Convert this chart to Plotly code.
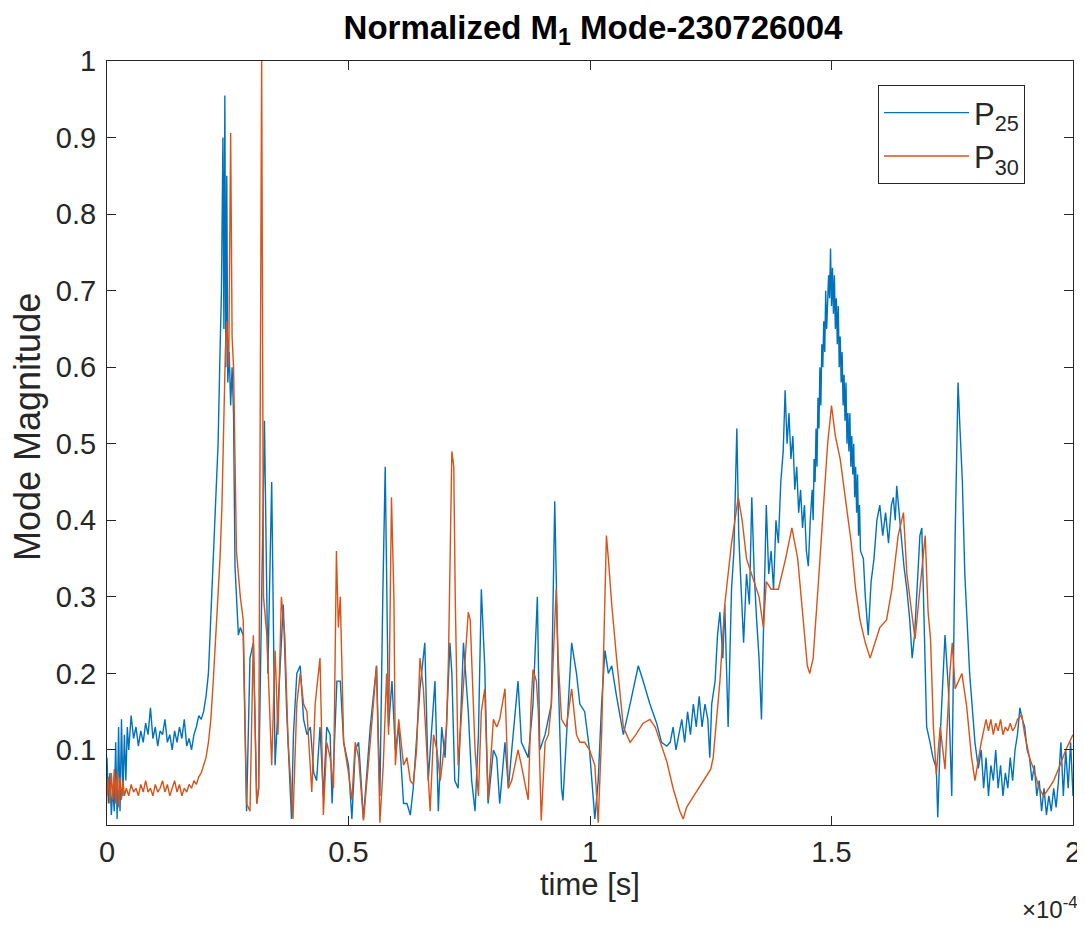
import plotly.graph_objects as go

# time in units of 1e-4 s
t_p25 = [0, 0.003, 0.006, 0.009, 0.012, 0.015, 0.018, 0.021, 0.024, 0.027, 0.030, 0.033, 0.036, 0.039,
         0.042, 0.045, 0.05, 0.055, 0.06, 0.065, 0.07, 0.075, 0.08, 0.085, 0.09, 0.095, 0.10, 0.105, 0.11, 0.115,
         0.12, 0.125, 0.13, 0.135, 0.14, 0.145, 0.15, 0.155, 0.16, 0.165, 0.17, 0.175, 0.18, 0.185, 0.19, 0.195,
         0.200, 0.205, 0.210, 0.214, 0.218, 0.222, 0.226, 0.230, 0.234, 0.237, 0.240, 0.242, 0.244, 0.246, 0.248,
         0.250, 0.253, 0.256, 0.259, 0.262, 0.265, 0.268, 0.272, 0.276, 0.282, 0.289, 0.296, 0.303, 0.310, 0.314,
         0.320, 0.326, 0.333, 0.341, 0.348, 0.358, 0.365, 0.372, 0.382, 0.386, 0.393,
         0.400, 0.407, 0.414, 0.421, 0.428, 0.434, 0.441, 0.448, 0.455, 0.462, 0.466, 0.476, 0.483, 0.490, 0.500,
         0.507, 0.514, 0.521, 0.531, 0.545, 0.558, 0.565, 0.571, 0.576, 0.583, 0.590, 0.597, 0.604, 0.614, 0.621,
         0.628, 0.634, 0.648, 0.658, 0.665, 0.672, 0.679, 0.686, 0.693, 0.700, 0.710, 0.714, 0.720, 0.727, 0.738,
         0.748, 0.755, 0.762, 0.769, 0.775, 0.782, 0.789, 0.800, 0.807, 0.813, 0.824, 0.831, 0.838, 0.851, 0.858,
         0.872, 0.882, 0.891, 0.896, 0.907, 0.920, 0.927, 0.934, 0.941, 0.944, 0.951, 0.962, 0.972, 0.979, 0.989,
         0.999, 1.010, 1.017, 1.024, 1.031, 1.038, 1.045, 1.055, 1.069, 1.083, 1.093, 1.100, 1.110, 1.124, 1.138,
         1.148, 1.159, 1.166, 1.172, 1.178, 1.184, 1.190, 1.196, 1.202, 1.208, 1.214, 1.220, 1.226, 1.232, 1.238,
         1.244, 1.248, 1.252, 1.259, 1.264, 1.269, 1.275, 1.279, 1.286, 1.293, 1.298, 1.304, 1.308, 1.313, 1.318,
         1.324, 1.330, 1.335, 1.340, 1.345, 1.350, 1.355, 1.360, 1.365, 1.370, 1.375, 1.380, 1.385, 1.390, 1.395,
         1.400, 1.404, 1.408, 1.412, 1.416, 1.420, 1.424, 1.428, 1.432, 1.436, 1.440, 1.444, 1.448, 1.452, 1.456,
         1.460, 1.462, 1.464, 1.466, 1.468, 1.470, 1.472, 1.474, 1.476, 1.478, 1.480, 1.482, 1.484, 1.486, 1.488,
         1.490, 1.492, 1.494, 1.496, 1.498, 1.500, 1.502, 1.504, 1.506, 1.508, 1.510, 1.512, 1.514, 1.516, 1.518,
         1.520, 1.522, 1.524, 1.526, 1.528, 1.530, 1.532, 1.534, 1.536, 1.538, 1.540, 1.542, 1.544, 1.546, 1.548,
         1.550, 1.552, 1.554, 1.556, 1.558, 1.560, 1.566, 1.570, 1.576,
         1.582, 1.588, 1.594, 1.600, 1.606, 1.612, 1.618, 1.624, 1.628, 1.632, 1.635, 1.640, 1.645, 1.650, 1.656,
         1.662, 1.667, 1.672, 1.678, 1.683, 1.687, 1.691, 1.697, 1.704, 1.710, 1.717, 1.720, 1.726, 1.735, 1.742,
         1.749, 1.756, 1.762, 1.766, 1.771, 1.776, 1.786, 1.797, 1.804, 1.810, 1.815, 1.820, 1.825, 1.830, 1.835,
         1.840, 1.845, 1.850, 1.855, 1.860, 1.865, 1.870, 1.875, 1.880, 1.885, 1.890, 1.895, 1.900, 1.905, 1.910,
         1.915, 1.920, 1.925, 1.930, 1.935, 1.940, 1.945, 1.950, 1.955, 1.960, 1.965, 1.970, 1.975, 1.980, 1.985,
         1.990, 1.995, 2.000]
v_p25 = [0.09, 0.03, 0.07, 0.015, 0.05, 0.02, 0.11, 0.01, 0.13, 0.02, 0.14, 0.04, 0.12, 0.06,
         0.13, 0.10, 0.145, 0.115, 0.13, 0.105, 0.125, 0.11, 0.135, 0.12, 0.155, 0.115, 0.13, 0.105, 0.125, 0.12,
         0.14, 0.11, 0.12, 0.10, 0.125, 0.11, 0.13, 0.115, 0.14, 0.105, 0.115, 0.10, 0.12, 0.13, 0.145, 0.14,
         0.15, 0.17, 0.20, 0.26, 0.30, 0.36, 0.42, 0.50, 0.62, 0.70, 0.90, 0.65, 0.955, 0.60, 0.85,
         0.58, 0.62, 0.55, 0.60, 0.54, 0.34, 0.30, 0.25, 0.26, 0.25, 0.02, 0.22, 0.24, 0.03, 0.05,
         0.28, 0.53, 0.20, 0.45, 0.08, 0.20, 0.29, 0.15, 0.01, 0.12, 0.20,
         0.21, 0.14, 0.12, 0.13, 0.07, 0.06, 0.13, 0.04, 0.13, 0.12, 0.03, 0.19, 0.19, 0.11, 0.08,
         0.01, 0.10, 0.11, 0.01, 0.13, 0.21, 0.04, 0.30, 0.47, 0.13, 0.19, 0.10, 0.13, 0.03, 0.03,
         0.015, 0.05, 0.18, 0.24, 0.06, 0.13, 0.19, 0.02, 0.13, 0.09, 0.24, 0.20, 0.06, 0.05, 0.24,
         0.15, 0.06, 0.02, 0.12, 0.31, 0.21, 0.03, 0.10, 0.09, 0.03, 0.11, 0.05, 0.10, 0.19, 0.11,
         0.09, 0.16, 0.30, 0.10, 0.12, 0.16, 0.425, 0.20, 0.05, 0.034, 0.11, 0.24, 0.20, 0.16, 0.15,
         0.10, 0.01, 0.06, 0.16, 0.23, 0.20, 0.21, 0.17, 0.12, 0.16, 0.19, 0.21, 0.19, 0.16, 0.135,
         0.11, 0.105, 0.11, 0.13, 0.10, 0.12, 0.14, 0.11, 0.15, 0.12, 0.16, 0.13, 0.17, 0.13, 0.16,
         0.14, 0.09, 0.16, 0.19, 0.25, 0.28, 0.22, 0.29, 0.13, 0.31, 0.36, 0.52, 0.38, 0.30, 0.24,
         0.33, 0.29, 0.43, 0.33, 0.27, 0.22, 0.14, 0.30, 0.42, 0.33, 0.36, 0.31, 0.40, 0.37, 0.45,
         0.49, 0.57, 0.50, 0.54, 0.48, 0.51, 0.44, 0.47, 0.41, 0.44, 0.39, 0.42, 0.36, 0.34, 0.40,
         0.44, 0.40, 0.48, 0.45, 0.52, 0.47, 0.56, 0.52, 0.60, 0.55, 0.63, 0.60, 0.66, 0.62, 0.70,
         0.65, 0.68, 0.72, 0.69, 0.755, 0.68, 0.73, 0.67, 0.72, 0.65, 0.69, 0.63, 0.68, 0.60, 0.64,
         0.58, 0.62, 0.55, 0.59, 0.53, 0.58, 0.50, 0.54, 0.49, 0.54, 0.47, 0.51, 0.46, 0.50, 0.43,
         0.47, 0.41, 0.46, 0.38, 0.42, 0.36, 0.35, 0.30, 0.25,
         0.32, 0.35, 0.40, 0.42, 0.38, 0.41, 0.37, 0.42, 0.43, 0.40, 0.445, 0.41, 0.38, 0.34, 0.31,
         0.27, 0.22, 0.25, 0.32, 0.38, 0.39, 0.30, 0.13, 0.11, 0.09, 0.076, 0.012, 0.13, 0.25, 0.18,
         0.04, 0.38, 0.58, 0.52, 0.45, 0.33, 0.20, 0.11, 0.076, 0.10, 0.05, 0.09, 0.04, 0.08, 0.06,
         0.10, 0.05, 0.08, 0.04, 0.07, 0.05, 0.09, 0.06, 0.10, 0.12, 0.155, 0.14, 0.13, 0.10, 0.09,
         0.06, 0.08, 0.04, 0.06, 0.02, 0.05, 0.015, 0.04, 0.02, 0.05, 0.025, 0.06, 0.11, 0.04, 0.10,
         0.05, 0.11, 0.04]

t_p30 = [0, 0.003, 0.006, 0.009, 0.012, 0.015, 0.018, 0.021, 0.024, 0.027, 0.030, 0.033, 0.036,
         0.04, 0.045, 0.05, 0.055, 0.06, 0.065, 0.07, 0.075, 0.08, 0.085, 0.09, 0.095, 0.10, 0.105, 0.11, 0.115,
         0.12, 0.125, 0.13, 0.135, 0.14, 0.145, 0.15, 0.155, 0.16, 0.165, 0.17, 0.175, 0.18, 0.185, 0.19, 0.195,
         0.20, 0.205, 0.21, 0.215, 0.22, 0.225, 0.23, 0.234, 0.238, 0.242, 0.245, 0.248, 0.252, 0.256, 0.259,
         0.262, 0.265, 0.268, 0.272, 0.276, 0.282, 0.289, 0.296, 0.303, 0.310, 0.314, 0.3202, 0.324, 0.331, 0.338,
         0.341, 0.348, 0.354, 0.361, 0.368, 0.375, 0.385, 0.393, 0.400,
         0.407, 0.414, 0.424, 0.431, 0.441, 0.448, 0.455, 0.462, 0.469, 0.475, 0.479, 0.483, 0.490, 0.500, 0.507,
         0.514, 0.521, 0.528, 0.531, 0.545, 0.558, 0.565, 0.572, 0.579, 0.583, 0.589, 0.594, 0.597, 0.604, 0.614,
         0.621, 0.628, 0.634, 0.641, 0.648, 0.655, 0.662, 0.669, 0.676, 0.683, 0.690, 0.697, 0.703, 0.707, 0.711,
         0.714, 0.718, 0.721, 0.727, 0.734, 0.741, 0.748, 0.752, 0.755, 0.762, 0.769, 0.775, 0.782, 0.789, 0.800,
         0.807, 0.813, 0.824, 0.831, 0.838, 0.851, 0.858, 0.872, 0.878, 0.882, 0.889, 0.893, 0.899, 0.907, 0.914,
         0.920, 0.927, 0.930, 0.934, 0.941, 0.951, 0.962, 0.972, 0.979, 0.989, 0.999, 1.010, 1.017, 1.024, 1.031,
         1.034, 1.038, 1.045, 1.055, 1.069, 1.083, 1.095, 1.110, 1.124, 1.135, 1.145, 1.159, 1.172, 1.186, 1.193,
         1.200, 1.210, 1.220, 1.230, 1.240, 1.250, 1.255, 1.262, 1.269, 1.279, 1.293, 1.307, 1.315, 1.324, 1.340,
         1.350, 1.359, 1.365, 1.375, 1.390, 1.405, 1.418, 1.430, 1.442, 1.450, 1.455, 1.462, 1.473, 1.483, 1.492,
         1.500, 1.508, 1.518, 1.530, 1.541, 1.550, 1.559, 1.570, 1.580, 1.590, 1.600, 1.614, 1.625, 1.638, 1.649,
         1.656, 1.673, 1.683, 1.694, 1.700, 1.705, 1.711, 1.717, 1.725, 1.735, 1.745, 1.750, 1.756, 1.770, 1.780,
         1.790, 1.797, 1.810, 1.820, 1.825, 1.830, 1.835, 1.840, 1.845, 1.850, 1.855, 1.860, 1.865, 1.870, 1.875,
         1.880, 1.885, 1.894, 1.900, 1.910, 1.918, 1.930, 1.939, 1.950, 1.960, 1.973, 1.985, 2.000]
v_p30 = [0.04, 0.065, 0.03, 0.07, 0.035, 0.075, 0.03, 0.07, 0.025, 0.065, 0.035, 0.06, 0.04,
         0.05, 0.04, 0.055, 0.045, 0.05, 0.04, 0.055, 0.045, 0.06, 0.045, 0.05, 0.04, 0.055, 0.045, 0.05, 0.06,
         0.045, 0.055, 0.04, 0.05, 0.06, 0.045, 0.055, 0.04, 0.05, 0.045, 0.055, 0.05, 0.06, 0.055, 0.065, 0.07,
         0.08, 0.09, 0.11, 0.14, 0.19, 0.25, 0.30, 0.35, 0.42, 0.55, 0.62, 0.66, 0.60, 0.906, 0.64,
         0.60, 0.45, 0.36, 0.33, 0.30, 0.27, 0.03, 0.02, 0.25, 0.03, 0.05, 1.0, 0.30, 0.25, 0.12,
         0.08, 0.23, 0.12, 0.30, 0.25, 0.11, 0.01, 0.16, 0.20,
         0.16, 0.15, 0.045, 0.16, 0.22, 0.015, 0.11, 0.09, 0.05, 0.36, 0.26, 0.30, 0.11, 0.07, 0.035,
         0.11, 0.09, 0.03, 0.008, 0.11, 0.21, 0.005, 0.08, 0.20, 0.12, 0.43, 0.30, 0.08, 0.14, 0.08,
         0.09, 0.06, 0.055, 0.10, 0.22, 0.18, 0.10, 0.02, 0.12, 0.10, 0.06, 0.10, 0.13, 0.22, 0.40,
         0.49, 0.47, 0.30, 0.08, 0.15, 0.22, 0.28, 0.27, 0.22, 0.10, 0.04, 0.15, 0.18, 0.035, 0.14,
         0.13, 0.14, 0.18, 0.05, 0.06, 0.10, 0.08, 0.035, 0.16, 0.205, 0.19, 0.15, 0.008, 0.11, 0.12,
         0.16, 0.28, 0.31, 0.22, 0.14, 0.13, 0.18, 0.12, 0.11, 0.11, 0.10, 0.08, 0.005, 0.12, 0.30,
         0.38, 0.35, 0.29, 0.22, 0.13, 0.11, 0.12, 0.135, 0.14, 0.13, 0.11, 0.085, 0.05, 0.02, 0.01,
         0.025, 0.035, 0.045, 0.055, 0.065, 0.075, 0.09, 0.14, 0.19, 0.29, 0.37, 0.43, 0.40, 0.35, 0.32,
         0.30, 0.26, 0.32, 0.31, 0.31, 0.35, 0.39, 0.35, 0.27, 0.21, 0.20, 0.22, 0.32, 0.42, 0.50,
         0.55, 0.51, 0.48, 0.42, 0.37, 0.31, 0.27, 0.24, 0.22, 0.24, 0.26, 0.27, 0.31, 0.38, 0.41,
         0.33, 0.245, 0.31, 0.38, 0.28, 0.245, 0.13, 0.068, 0.13, 0.075, 0.20, 0.24, 0.18, 0.20, 0.156,
         0.09, 0.06, 0.11, 0.14, 0.125, 0.14, 0.12, 0.135, 0.125, 0.14, 0.12, 0.13, 0.125, 0.135, 0.125,
         0.13, 0.14, 0.146, 0.12, 0.09, 0.076, 0.05, 0.04, 0.05, 0.06, 0.08, 0.10, 0.12]

x_ticks = [0, 0.5, 1, 1.5, 2]
x_tick_labels = ["0", "0.5", "1", "1.5", "2"]
y_ticks = [0.1, 0.2, 0.3, 0.4, 0.5, 0.6, 0.7, 0.8, 0.9, 1]
y_tick_labels = ["0.1", "0.2", "0.3", "0.4", "0.5", "0.6", "0.7", "0.8", "0.9", "1"]

FONT = "Liberation Sans, Arial, Helvetica, sans-serif"
AX = "#262626"
# page body adds an 8px offset; figure is sized to fit the window
W, H = 1077, 919
L, R, T, B = 99, 12, 53, 102
PW = W - L - R
PH = H - T - B

fig = go.Figure()
fig.add_trace(go.Scatter(x=t_p25, y=v_p25, mode="lines", name="P<sub>25</sub>",
                         line=dict(color="#0072BD", width=1.4)))
fig.add_trace(go.Scatter(x=t_p30, y=v_p30, mode="lines", name="P<sub>30</sub>",
                         line=dict(color="#D95319", width=1.4)))

fig.update_layout(
    width=W, height=H,
    margin=dict(l=L, r=R, t=T, b=B, autoexpand=False),
    paper_bgcolor="white", plot_bgcolor="white",
    font=dict(family=FONT, color=AX, size=29),
    title=dict(text="<b>Normalized M<sub>1</sub> Mode-230726004</b>", x=585 / W, xanchor="center",
               xref="container", yref="container",
               y=1 - 19 / H, yanchor="middle", font=dict(size=33, color="black")),
    showlegend=True,
    legend=dict(x=(870 - L) / PW, y=(H - B - 77) / PH, xanchor="left", yanchor="top",
                bgcolor="white", bordercolor=AX, borderwidth=1, font=dict(size=31, color=AX),
                itemwidth=85, tracegroupgap=0),
)
fig.update_xaxes(range=[0, 2], tickvals=x_ticks, ticktext=x_tick_labels, automargin=False,
                 showline=True, linecolor=AX, linewidth=1, mirror="ticks",
                 ticks="inside", ticklen=9, tickcolor=AX, showgrid=False, zeroline=False,
                 tickfont=dict(size=29, color=AX), ticklabelstandoff=1)
fig.update_yaxes(range=[0.002, 1.0], tickvals=y_ticks, ticktext=y_tick_labels, automargin=False,
                 showline=True, linecolor=AX, linewidth=1, mirror="ticks",
                 ticks="inside", ticklen=9, tickcolor=AX, showgrid=False, zeroline=False,
                 tickfont=dict(size=29, color=AX), ticklabelstandoff=4)
fig.add_annotation(text="time [s]", xref="paper", yref="paper", x=0.5, y=-(876 - (H - B)) / PH,
                   xanchor="center", yanchor="middle", showarrow=False,
                   font=dict(size=31, color=AX))
fig.add_annotation(text="Mode Magnitude", xref="paper", yref="paper", x=-(L - 19) / PW,
                   y=(H - B - 419) / PH, xanchor="center", yanchor="middle", textangle=-90,
                   showarrow=False, font=dict(size=36, color=AX))
fig.add_annotation(text="×10<sup>-4</sup>", xref="paper", yref="paper", x=(1072 - L) / PW,
                   y=-(917 - (H - B)) / PH, xanchor="right", yanchor="bottom", showarrow=False,
                   font=dict(size=24, color=AX))

fig.write_html("out.html")
